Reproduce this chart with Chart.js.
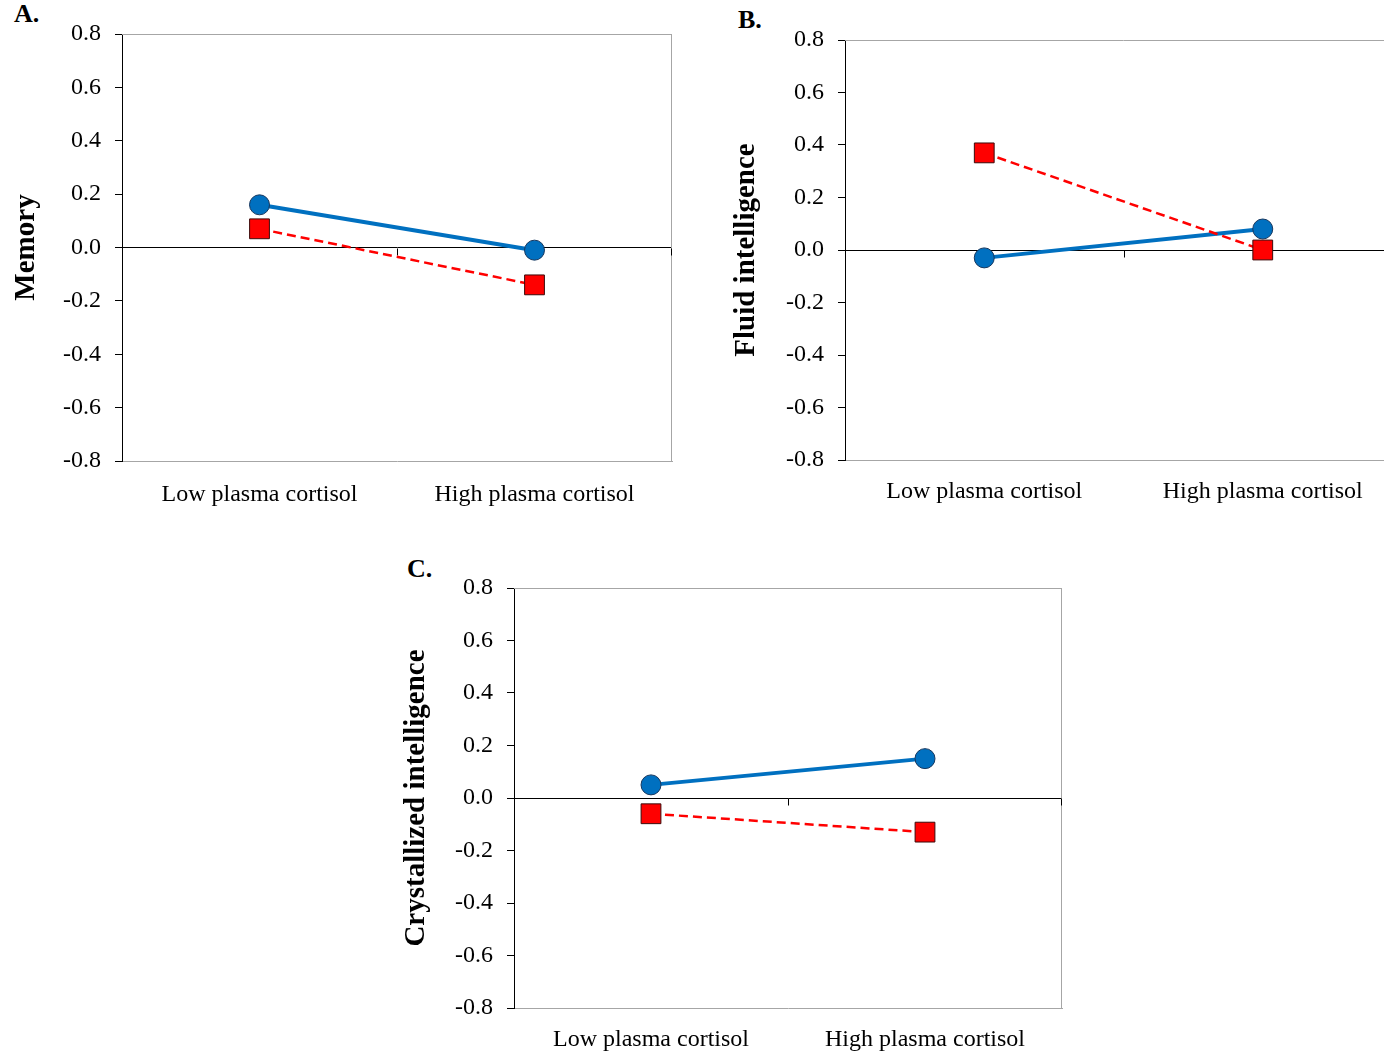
<!DOCTYPE html>
<html>
<head>
<meta charset="utf-8">
<script src="https://cdn.jsdelivr.net/npm/chart.js@4/dist/chart.umd.min.js"></script>
<style>
  html, body { margin: 0; padding: 0; background: #fff; width: 1384px; height: 1055px; overflow: hidden; position: relative; }
  .wrap { position: absolute; }
  .wrap canvas { display: block; }
  .panel { position: absolute; font-family: "Liberation Serif", "Times New Roman", serif; font-weight: bold; font-size: 26px; line-height: 26px; color: #000; }
</style>
</head>
<body>
<div class="panel" style="left:14px; top:1px;">A.</div>
<div class="panel" style="left:738px; top:7px;">B.</div>
<div class="panel" style="left:407px; top:556px;">C.</div>

<div class="wrap" style="left:0px; top:0px; width:702px; height:520px;"><canvas id="chartA" width="702" height="520" style="width:702px;height:520px"></canvas></div>
<div class="wrap" style="left:720px; top:0px; width:697px; height:520px;"><canvas id="chartB" width="697" height="520" style="width:697px;height:520px"></canvas></div>
<div class="wrap" style="left:390px; top:550px; width:704px; height:505px;"><canvas id="chartC" width="704" height="505" style="width:704px;height:505px"></canvas></div>

<script>
// ---- Data ----
const categories = ['Low plasma cortisol', 'High plasma cortisol'];
const yTicks = [-0.8, -0.6, -0.4, -0.2, 0.0, 0.2, 0.4, 0.6, 0.8];

const memoryBlue = [0.16, -0.01];
const memoryRed  = [0.07, -0.14];

const fluidBlue  = [-0.03, 0.08];
const fluidRed   = [0.37, 0.00];

const crystBlue  = [0.05, 0.15];
const crystRed   = [-0.06, -0.13];

// ---- Styles ----
const FONT = '"Liberation Serif", "Times New Roman", serif';
const BLUE = '#0070C0';
const RED = '#FF0000';

const framePlugin = {
  id: 'frame',
  beforeDatasetsDraw(chart) {
    const { ctx, chartArea: a } = chart;
    ctx.save();
    ctx.strokeStyle = '#a6a6a6';
    ctx.lineWidth = 1;
    ctx.beginPath();
    ctx.moveTo(a.left, Math.round(a.top) + 0.5);
    ctx.lineTo(a.right, Math.round(a.top) + 0.5);
    ctx.moveTo(Math.round(a.right) - 0.5, a.top);
    ctx.lineTo(Math.round(a.right) - 0.5, a.bottom);
    ctx.stroke();
    // category boundary tick marks hanging from the zero line
    const xs = chart.scales.x, ys = chart.scales.y;
    const y0 = Math.round(ys.getPixelForValue(0)) + 0.5;
    ctx.strokeStyle = '#000';
    ctx.beginPath();
    const n = xs.getLabels().length;
    for (let i = 0; i < n; i++) {
      const x = i < n - 1 ? (xs.getPixelForValue(i) + xs.getPixelForValue(i + 1)) / 2 : a.right - 1;
      const xr = Math.round(x) + 0.5;
      ctx.moveTo(xr, y0);
      ctx.lineTo(xr, y0 + 7);
    }
    ctx.stroke();
    ctx.restore();
  }
};

function makeChart(id, blue, red, yTitle, L) {
  return new Chart(document.getElementById(id), {
    type: 'line',
    data: {
      labels: categories,
      datasets: [
        {
          data: red,
          order: 1,
          borderColor: RED,
          borderWidth: 2.5,
          borderDash: [9, 5],
          pointStyle: 'rect',
          pointRadius: 14,
          pointBackgroundColor: RED,
          pointBorderColor: '#3b0a0a',
          pointBorderWidth: 1,
          fill: false,
          tension: 0
        },
        {
          data: blue,
          order: 2,
          borderColor: BLUE,
          borderWidth: 4,
          pointStyle: 'circle',
          pointRadius: 10,
          pointBackgroundColor: BLUE,
          pointBorderColor: '#17375E',
          pointBorderWidth: 1,
          fill: false,
          tension: 0
        }
      ]
    },
    options: {
      responsive: false,
      maintainAspectRatio: false,
      animation: false,
      events: [],
      layout: { padding: { left: 0, top: L.top, right: L.right, bottom: 0 } },
      plugins: { legend: { display: false }, tooltip: { enabled: false } },
      scales: {
        x: {
          type: 'category',
          offset: true,
          grid: { display: true, drawOnChartArea: false, drawTicks: false, offset: true },
          border: { display: true, color: '#a6a6a6', width: 1 },
          ticks: { color: '#000', font: { family: FONT, size: 24 }, padding: L.xPad, maxRotation: 0, autoSkip: false },
          afterFit(s) { s.height = L.xH; }
        },
        y: {
          min: yTicks[0],
          max: yTicks[yTicks.length - 1],
          afterBuildTicks(s) { s.ticks = yTicks.map(v => ({ value: v })); },
          grid: {
            drawTicks: true,
            tickLength: 7,
            tickColor: '#000',
            color: c => (c.tick && c.tick.value === 0 ? '#000' : 'rgba(0,0,0,0)'),
            lineWidth: 1
          },
          border: { display: true, color: '#000', width: 1 },
          ticks: {
            color: '#000',
            font: { family: FONT, size: 24 },
            padding: 14,
            callback: v => Number(v).toFixed(1)
          },
          title: {
            display: true,
            text: yTitle,
            color: '#000',
            font: { family: FONT, size: 29, weight: 'bold' },
            padding: { top: 9, bottom: 0 }
          },
          afterFit(s) { s.width = L.yW; }
        }
      }
    },
    plugins: [framePlugin]
  });
}

makeChart('chartA', memoryBlue, memoryRed, 'Memory', { top: 34, right: 30, yW: 122, xH: 59, xPad: 19 });
makeChart('chartB', fluidBlue, fluidRed, 'Fluid intelligence', { top: 40, right: 0, yW: 125, xH: 60, xPad: 17 });
makeChart('chartC', crystBlue, crystRed, 'Crystallized intelligence', { top: 38, right: 32, yW: 124, xH: 47, xPad: 17 });
</script>
</body>
</html>
